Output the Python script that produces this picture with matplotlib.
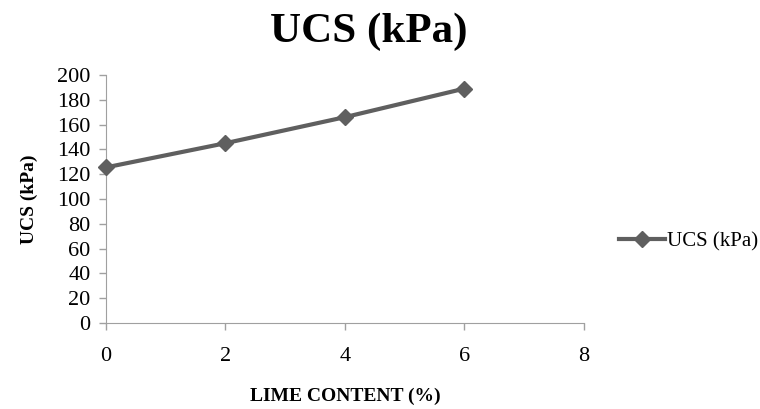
import matplotlib
matplotlib.use('Agg')
import matplotlib.pyplot as plt

lime = [0, 2, 4, 6]
ucs = [125.5, 145, 166, 189]
xticks = [0, 2, 4, 6, 8]
yticks = list(range(0, 201, 20))

plt.rcParams['font.family'] = ['Liberation Serif', 'DejaVu Serif']

fig = plt.figure(figsize=(7.6, 4.09), dpi=100)
ax = fig.add_axes([0.1395, 0.2103, 0.6285, 0.6063])

col = '#5f5f5f'
ax.plot(lime, ucs, color=col, lw=3, marker='D', ms=8, label='UCS (kPa)',
        clip_on=False, zorder=5)

ax.set_xlim(0, 8)
ax.set_ylim(0, 200)
ax.set_xticks(xticks)
ax.set_yticks(yticks)
ax.tick_params(labelsize=16, length=5, color='#a0a0a0', width=1, pad=6)
ax.tick_params(axis='x', pad=12)
for s in ['top', 'right']:
    ax.spines[s].set_visible(False)
for s in ['left', 'bottom']:
    ax.spines[s].set_color('#a0a0a0')

ax.set_xlabel('LIME CONTENT (%)', fontsize=14, fontweight='bold', labelpad=16)
ax.set_ylabel('UCS (kPa)', fontsize=14, fontweight='bold', labelpad=14)
fig.suptitle('UCS (kPa)', fontsize=31, fontweight='bold', x=0.485, y=0.97)

fig.legend(loc='center left', bbox_to_anchor=(0.79, 0.41), frameon=False,
           fontsize=15, handlelength=2.2, handletextpad=0.1)

fig.savefig('out.png', dpi=100)
